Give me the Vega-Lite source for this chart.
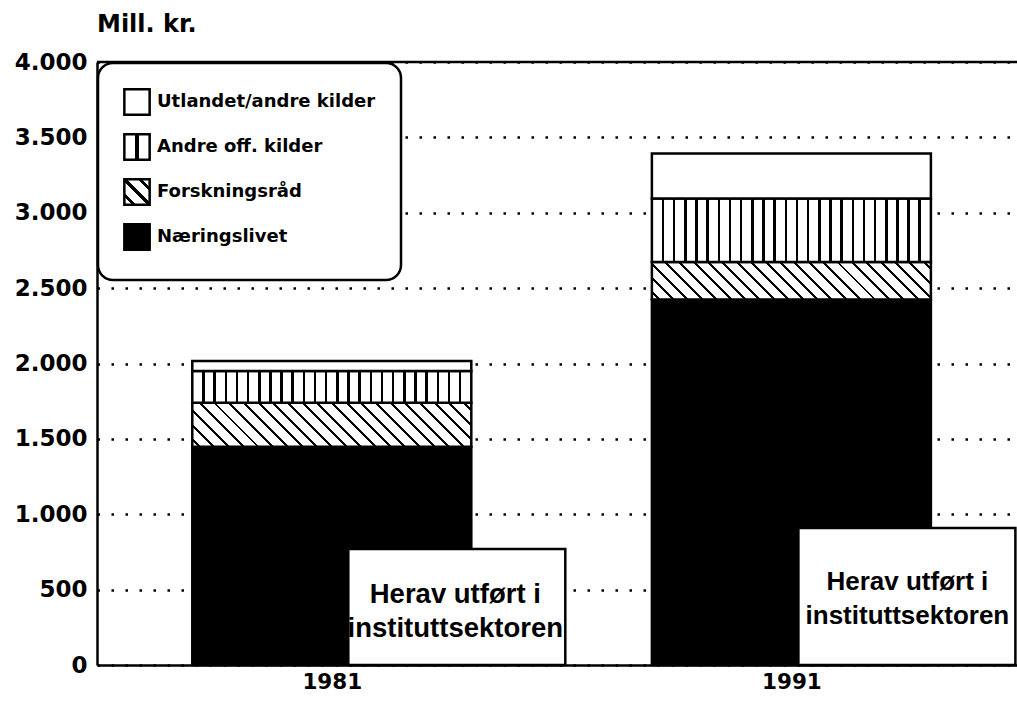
{
  "$schema": "https://vega.github.io/schema/vega-lite/v6.json",
  "width": 920,
  "height": 603,
  "autosize": {"type": "none"},
  "padding": {"left": 97, "top": 62, "right": 0, "bottom": 38},
  "background": "white",
  "title": {"text": "Mill. kr.", "anchor": "start", "frame": "group", "font": "DejaVu Sans", "fontSize": 24, "fontWeight": "bold", "color": "black", "offset": 14},
  "datasets": {
    "main": [
      {"year": 1981, "series": "Næringslivet", "order": 1, "value": 1447},
      {"year": 1981, "series": "Forskningsråd", "order": 2, "value": 292},
      {"year": 1981, "series": "Andre off. kilder", "order": 3, "value": 212},
      {"year": 1981, "series": "Utlandet/andre kilder", "order": 4, "value": 66},
      {"year": 1991, "series": "Næringslivet", "order": 1, "value": 2425},
      {"year": 1991, "series": "Forskningsråd", "order": 2, "value": 249},
      {"year": 1991, "series": "Andre off. kilder", "order": 3, "value": 420},
      {"year": 1991, "series": "Utlandet/andre kilder", "order": 4, "value": 299}
    ],
    "inst": [
      {"year": 1981, "value": 769, "label": "Herav utført i\ninstituttsektoren"},
      {"year": 1991, "value": 908, "label": "Herav utført i\ninstituttsektoren"}
    ],
    "frame": [{"top": 4000}]
  },
  "layer": [
    {
      "data": {"name": "main"},
      "mark": {"type": "bar", "width": 279, "stroke": "black", "strokeWidth": 2.5},
      "encoding": {
        "x": {"field": "year", "type": "quantitative", "scale": {"domain": [1976, 1995.8], "nice": false, "zero": false},
          "axis": {"values": [1981, 1991], "format": "d", "title": null, "ticks": false, "grid": false, "domainColor": "black", "domainWidth": 2.5, "labelFont": "DejaVu Sans", "labelFontWeight": "bold", "labelFontSize": 21.5, "labelColor": "black", "labelPadding": 6}},
        "y": {"field": "value", "type": "quantitative", "stack": "zero", "scale": {"domain": [0, 4000], "nice": false},
          "axis": {"values": [0, 500, 1000, 1500, 2000, 2500, 3000, 3500, 4000], "labelExpr": "replace(format(datum.value, ','), ',', '.')", "title": null, "ticks": false, "domainColor": "black", "domainWidth": 2.5, "gridColor": "black", "gridDash": [2.5, 11.5], "gridWidth": 2.5, "gridOpacity": 1, "labelFont": "DejaVu Sans", "labelFontWeight": "bold", "labelFontSize": 23, "labelColor": "black", "labelPadding": 10}},
        "order": {"field": "order", "type": "quantitative"},
        "fill": {
          "condition": [
            {"test": "datum.series === 'Andre off. kilder'", "value": {"gradient": "linear", "x1": 0, "y1": 0, "x2": 1, "y2": 0, "stops": [
              {"offset": 0, "color": "white"},
              {"offset": 0.0355, "color": "white"}, {"offset": 0.0355, "color": "black"}, {"offset": 0.0445, "color": "black"}, {"offset": 0.0445, "color": "white"},
              {"offset": 0.0755, "color": "white"}, {"offset": 0.0755, "color": "black"}, {"offset": 0.0845, "color": "black"}, {"offset": 0.0845, "color": "white"},
              {"offset": 0.1155, "color": "white"}, {"offset": 0.1155, "color": "black"}, {"offset": 0.1245, "color": "black"}, {"offset": 0.1245, "color": "white"},
              {"offset": 0.1555, "color": "white"}, {"offset": 0.1555, "color": "black"}, {"offset": 0.1645, "color": "black"}, {"offset": 0.1645, "color": "white"},
              {"offset": 0.1955, "color": "white"}, {"offset": 0.1955, "color": "black"}, {"offset": 0.2045, "color": "black"}, {"offset": 0.2045, "color": "white"},
              {"offset": 0.2355, "color": "white"}, {"offset": 0.2355, "color": "black"}, {"offset": 0.2445, "color": "black"}, {"offset": 0.2445, "color": "white"},
              {"offset": 0.2755, "color": "white"}, {"offset": 0.2755, "color": "black"}, {"offset": 0.2845, "color": "black"}, {"offset": 0.2845, "color": "white"},
              {"offset": 0.3155, "color": "white"}, {"offset": 0.3155, "color": "black"}, {"offset": 0.3245, "color": "black"}, {"offset": 0.3245, "color": "white"},
              {"offset": 0.3555, "color": "white"}, {"offset": 0.3555, "color": "black"}, {"offset": 0.3645, "color": "black"}, {"offset": 0.3645, "color": "white"},
              {"offset": 0.3955, "color": "white"}, {"offset": 0.3955, "color": "black"}, {"offset": 0.4045, "color": "black"}, {"offset": 0.4045, "color": "white"},
              {"offset": 0.4355, "color": "white"}, {"offset": 0.4355, "color": "black"}, {"offset": 0.4445, "color": "black"}, {"offset": 0.4445, "color": "white"},
              {"offset": 0.4755, "color": "white"}, {"offset": 0.4755, "color": "black"}, {"offset": 0.4845, "color": "black"}, {"offset": 0.4845, "color": "white"},
              {"offset": 0.5155, "color": "white"}, {"offset": 0.5155, "color": "black"}, {"offset": 0.5245, "color": "black"}, {"offset": 0.5245, "color": "white"},
              {"offset": 0.5555, "color": "white"}, {"offset": 0.5555, "color": "black"}, {"offset": 0.5645, "color": "black"}, {"offset": 0.5645, "color": "white"},
              {"offset": 0.5955, "color": "white"}, {"offset": 0.5955, "color": "black"}, {"offset": 0.6045, "color": "black"}, {"offset": 0.6045, "color": "white"},
              {"offset": 0.6355, "color": "white"}, {"offset": 0.6355, "color": "black"}, {"offset": 0.6445, "color": "black"}, {"offset": 0.6445, "color": "white"},
              {"offset": 0.6755, "color": "white"}, {"offset": 0.6755, "color": "black"}, {"offset": 0.6845, "color": "black"}, {"offset": 0.6845, "color": "white"},
              {"offset": 0.7155, "color": "white"}, {"offset": 0.7155, "color": "black"}, {"offset": 0.7245, "color": "black"}, {"offset": 0.7245, "color": "white"},
              {"offset": 0.7555, "color": "white"}, {"offset": 0.7555, "color": "black"}, {"offset": 0.7645, "color": "black"}, {"offset": 0.7645, "color": "white"},
              {"offset": 0.7955, "color": "white"}, {"offset": 0.7955, "color": "black"}, {"offset": 0.8045, "color": "black"}, {"offset": 0.8045, "color": "white"},
              {"offset": 0.8355, "color": "white"}, {"offset": 0.8355, "color": "black"}, {"offset": 0.8445, "color": "black"}, {"offset": 0.8445, "color": "white"},
              {"offset": 0.8755, "color": "white"}, {"offset": 0.8755, "color": "black"}, {"offset": 0.8845, "color": "black"}, {"offset": 0.8845, "color": "white"},
              {"offset": 0.9155, "color": "white"}, {"offset": 0.9155, "color": "black"}, {"offset": 0.9245, "color": "black"}, {"offset": 0.9245, "color": "white"},
              {"offset": 0.9555, "color": "white"}, {"offset": 0.9555, "color": "black"}, {"offset": 0.9645, "color": "black"}, {"offset": 0.9645, "color": "white"},
              {"offset": 1, "color": "white"}
            ]}},
            {"test": "datum.series === 'Forskningsråd' && datum.year === 1981", "value": {"gradient": "linear", "x1": 0, "y1": 1, "x2": 1.12966, "y2": 0.82176, "stops": [
              {"offset": 0, "color": "white"},
              {"offset": 0.0181, "color": "white"}, {"offset": 0.0181, "color": "black"}, {"offset": 0.0273, "color": "black"}, {"offset": 0.0273, "color": "white"},
              {"offset": 0.0636, "color": "white"}, {"offset": 0.0636, "color": "black"}, {"offset": 0.0728, "color": "black"}, {"offset": 0.0728, "color": "white"},
              {"offset": 0.1090, "color": "white"}, {"offset": 0.1090, "color": "black"}, {"offset": 0.1182, "color": "black"}, {"offset": 0.1182, "color": "white"},
              {"offset": 0.1545, "color": "white"}, {"offset": 0.1545, "color": "black"}, {"offset": 0.1637, "color": "black"}, {"offset": 0.1637, "color": "white"},
              {"offset": 0.1999, "color": "white"}, {"offset": 0.1999, "color": "black"}, {"offset": 0.2091, "color": "black"}, {"offset": 0.2091, "color": "white"},
              {"offset": 0.2454, "color": "white"}, {"offset": 0.2454, "color": "black"}, {"offset": 0.2546, "color": "black"}, {"offset": 0.2546, "color": "white"},
              {"offset": 0.2909, "color": "white"}, {"offset": 0.2909, "color": "black"}, {"offset": 0.3001, "color": "black"}, {"offset": 0.3001, "color": "white"},
              {"offset": 0.3363, "color": "white"}, {"offset": 0.3363, "color": "black"}, {"offset": 0.3455, "color": "black"}, {"offset": 0.3455, "color": "white"},
              {"offset": 0.3818, "color": "white"}, {"offset": 0.3818, "color": "black"}, {"offset": 0.3910, "color": "black"}, {"offset": 0.3910, "color": "white"},
              {"offset": 0.4272, "color": "white"}, {"offset": 0.4272, "color": "black"}, {"offset": 0.4364, "color": "black"}, {"offset": 0.4364, "color": "white"},
              {"offset": 0.4727, "color": "white"}, {"offset": 0.4727, "color": "black"}, {"offset": 0.4819, "color": "black"}, {"offset": 0.4819, "color": "white"},
              {"offset": 0.5181, "color": "white"}, {"offset": 0.5181, "color": "black"}, {"offset": 0.5273, "color": "black"}, {"offset": 0.5273, "color": "white"},
              {"offset": 0.5636, "color": "white"}, {"offset": 0.5636, "color": "black"}, {"offset": 0.5728, "color": "black"}, {"offset": 0.5728, "color": "white"},
              {"offset": 0.6090, "color": "white"}, {"offset": 0.6090, "color": "black"}, {"offset": 0.6182, "color": "black"}, {"offset": 0.6182, "color": "white"},
              {"offset": 0.6545, "color": "white"}, {"offset": 0.6545, "color": "black"}, {"offset": 0.6637, "color": "black"}, {"offset": 0.6637, "color": "white"},
              {"offset": 0.6999, "color": "white"}, {"offset": 0.6999, "color": "black"}, {"offset": 0.7091, "color": "black"}, {"offset": 0.7091, "color": "white"},
              {"offset": 0.7454, "color": "white"}, {"offset": 0.7454, "color": "black"}, {"offset": 0.7546, "color": "black"}, {"offset": 0.7546, "color": "white"},
              {"offset": 0.7909, "color": "white"}, {"offset": 0.7909, "color": "black"}, {"offset": 0.8001, "color": "black"}, {"offset": 0.8001, "color": "white"},
              {"offset": 0.8363, "color": "white"}, {"offset": 0.8363, "color": "black"}, {"offset": 0.8455, "color": "black"}, {"offset": 0.8455, "color": "white"},
              {"offset": 0.8818, "color": "white"}, {"offset": 0.8818, "color": "black"}, {"offset": 0.8910, "color": "black"}, {"offset": 0.8910, "color": "white"},
              {"offset": 0.9272, "color": "white"}, {"offset": 0.9272, "color": "black"}, {"offset": 0.9364, "color": "black"}, {"offset": 0.9364, "color": "white"},
              {"offset": 0.9727, "color": "white"}, {"offset": 0.9727, "color": "black"}, {"offset": 0.9819, "color": "black"}, {"offset": 0.9819, "color": "white"},
              {"offset": 1, "color": "white"}
            ]}},
            {"test": "datum.series === 'Forskningsråd' && datum.year === 1991", "value": {"gradient": "linear", "x1": 0, "y1": 1, "x2": 1.11438, "y2": 0.85006, "stops": [
              {"offset": 0, "color": "white"},
              {"offset": 0.0181, "color": "white"}, {"offset": 0.0181, "color": "black"}, {"offset": 0.0273, "color": "black"}, {"offset": 0.0273, "color": "white"},
              {"offset": 0.0636, "color": "white"}, {"offset": 0.0636, "color": "black"}, {"offset": 0.0728, "color": "black"}, {"offset": 0.0728, "color": "white"},
              {"offset": 0.1090, "color": "white"}, {"offset": 0.1090, "color": "black"}, {"offset": 0.1182, "color": "black"}, {"offset": 0.1182, "color": "white"},
              {"offset": 0.1545, "color": "white"}, {"offset": 0.1545, "color": "black"}, {"offset": 0.1637, "color": "black"}, {"offset": 0.1637, "color": "white"},
              {"offset": 0.1999, "color": "white"}, {"offset": 0.1999, "color": "black"}, {"offset": 0.2091, "color": "black"}, {"offset": 0.2091, "color": "white"},
              {"offset": 0.2454, "color": "white"}, {"offset": 0.2454, "color": "black"}, {"offset": 0.2546, "color": "black"}, {"offset": 0.2546, "color": "white"},
              {"offset": 0.2909, "color": "white"}, {"offset": 0.2909, "color": "black"}, {"offset": 0.3001, "color": "black"}, {"offset": 0.3001, "color": "white"},
              {"offset": 0.3363, "color": "white"}, {"offset": 0.3363, "color": "black"}, {"offset": 0.3455, "color": "black"}, {"offset": 0.3455, "color": "white"},
              {"offset": 0.3818, "color": "white"}, {"offset": 0.3818, "color": "black"}, {"offset": 0.3910, "color": "black"}, {"offset": 0.3910, "color": "white"},
              {"offset": 0.4272, "color": "white"}, {"offset": 0.4272, "color": "black"}, {"offset": 0.4364, "color": "black"}, {"offset": 0.4364, "color": "white"},
              {"offset": 0.4727, "color": "white"}, {"offset": 0.4727, "color": "black"}, {"offset": 0.4819, "color": "black"}, {"offset": 0.4819, "color": "white"},
              {"offset": 0.5181, "color": "white"}, {"offset": 0.5181, "color": "black"}, {"offset": 0.5273, "color": "black"}, {"offset": 0.5273, "color": "white"},
              {"offset": 0.5636, "color": "white"}, {"offset": 0.5636, "color": "black"}, {"offset": 0.5728, "color": "black"}, {"offset": 0.5728, "color": "white"},
              {"offset": 0.6090, "color": "white"}, {"offset": 0.6090, "color": "black"}, {"offset": 0.6182, "color": "black"}, {"offset": 0.6182, "color": "white"},
              {"offset": 0.6545, "color": "white"}, {"offset": 0.6545, "color": "black"}, {"offset": 0.6637, "color": "black"}, {"offset": 0.6637, "color": "white"},
              {"offset": 0.6999, "color": "white"}, {"offset": 0.6999, "color": "black"}, {"offset": 0.7091, "color": "black"}, {"offset": 0.7091, "color": "white"},
              {"offset": 0.7454, "color": "white"}, {"offset": 0.7454, "color": "black"}, {"offset": 0.7546, "color": "black"}, {"offset": 0.7546, "color": "white"},
              {"offset": 0.7909, "color": "white"}, {"offset": 0.7909, "color": "black"}, {"offset": 0.8001, "color": "black"}, {"offset": 0.8001, "color": "white"},
              {"offset": 0.8363, "color": "white"}, {"offset": 0.8363, "color": "black"}, {"offset": 0.8455, "color": "black"}, {"offset": 0.8455, "color": "white"},
              {"offset": 0.8818, "color": "white"}, {"offset": 0.8818, "color": "black"}, {"offset": 0.8910, "color": "black"}, {"offset": 0.8910, "color": "white"},
              {"offset": 0.9272, "color": "white"}, {"offset": 0.9272, "color": "black"}, {"offset": 0.9364, "color": "black"}, {"offset": 0.9364, "color": "white"},
              {"offset": 0.9727, "color": "white"}, {"offset": 0.9727, "color": "black"}, {"offset": 0.9819, "color": "black"}, {"offset": 0.9819, "color": "white"},
              {"offset": 1, "color": "white"}
            ]}}
          ],
          "field": "series",
          "type": "nominal",
          "scale": {
            "domain": ["Utlandet/andre kilder", "Andre off. kilder", "Forskningsråd", "Næringslivet"],
            "range": [
              "white",
              {"expr": "{gradient: 'linear', x1: 0, y1: 0, x2: 1, y2: 0, stops: [{offset: 0, color: 'white'}, {offset: 0.44, color: 'white'}, {offset: 0.44, color: 'black'}, {offset: 0.56, color: 'black'}, {offset: 0.56, color: 'white'}, {offset: 1, color: 'white'}]}"},
              {"expr": "{gradient: 'linear', x1: 0, y1: 1, x2: 1, y2: 0, stops: [{offset: 0, color: 'white'}, {offset: 0.16, color: 'white'}, {offset: 0.16, color: 'black'}, {offset: 0.24, color: 'black'}, {offset: 0.24, color: 'white'}, {offset: 0.46, color: 'white'}, {offset: 0.46, color: 'black'}, {offset: 0.54, color: 'black'}, {offset: 0.54, color: 'white'}, {offset: 0.76, color: 'white'}, {offset: 0.76, color: 'black'}, {offset: 0.84, color: 'black'}, {offset: 0.84, color: 'white'}, {offset: 1, color: 'white'}]}"},
              "black"
            ]
          },
          "legend": {
            "title": null, "orient": "top-left", "offset": 1, "padding": 25,
            "strokeColor": "black", "cornerRadius": 15, "fillColor": "white",
            "symbolType": "square", "symbolSize": 640, "symbolStrokeColor": "black", "symbolStrokeWidth": 2.5, "symbolOpacity": 1,
            "labelFont": "DejaVu Sans", "labelFontWeight": "bold", "labelFontSize": 18, "labelColor": "black",
            "rowPadding": 9, "labelOffset": 6, "labelLimit": 400,
            "encode": {
              "legend": {
                "update": {"strokeWidth": {"value": 2.5}}
              },
              "symbols": {
                "update": {
                  "stroke": {"value": "black"},
                  "strokeWidth": {"value": 2.5}
                }
              }
            }
          }
        }
      }
    },
    {
      "data": {"name": "inst"},
      "transform": [{"filter": "datum.year === 1981"}],
      "mark": {"type": "bar", "width": 217, "xOffset": 125, "fill": "white", "stroke": "black", "strokeWidth": 2.5},
      "encoding": {
        "x": {"field": "year", "type": "quantitative"},
        "y": {"field": "value", "type": "quantitative", "stack": null}
      }
    },
    {
      "data": {"name": "inst"},
      "transform": [{"filter": "datum.year === 1991"}],
      "mark": {"type": "bar", "width": 217, "xOffset": 115.5, "fill": "white", "stroke": "black", "strokeWidth": 2.5},
      "encoding": {
        "x": {"field": "year", "type": "quantitative"},
        "y": {"field": "value", "type": "quantitative", "stack": null}
      }
    },
    {
      "data": {"name": "inst"},
      "transform": [{"filter": "datum.year === 1981"}],
      "mark": {"type": "text", "font": "Liberation Sans", "fontWeight": "bold", "fontSize": 27.5, "lineBreak": "\n", "lineHeight": 34, "align": "center", "baseline": "middle", "xOffset": 123.5, "dy": 46, "color": "black"},
      "encoding": {
        "x": {"field": "year", "type": "quantitative"},
        "y": {"field": "value", "type": "quantitative", "stack": null},
        "text": {"field": "label"}
      }
    },
    {
      "data": {"name": "inst"},
      "transform": [{"filter": "datum.year === 1991"}],
      "mark": {"type": "text", "font": "Liberation Sans", "fontWeight": "bold", "fontSize": 26, "lineBreak": "\n", "lineHeight": 34, "align": "center", "baseline": "middle", "xOffset": 116, "dy": 54, "color": "black"},
      "encoding": {
        "x": {"field": "year", "type": "quantitative"},
        "y": {"field": "value", "type": "quantitative", "stack": null},
        "text": {"field": "label"}
      }
    },
    {
      "data": {"name": "frame"},
      "mark": {"type": "rule", "strokeWidth": 2.5, "color": "black"},
      "encoding": {"y": {"field": "top", "type": "quantitative"}}
    }
  ],
  "config": {"view": {"stroke": null}}
}
